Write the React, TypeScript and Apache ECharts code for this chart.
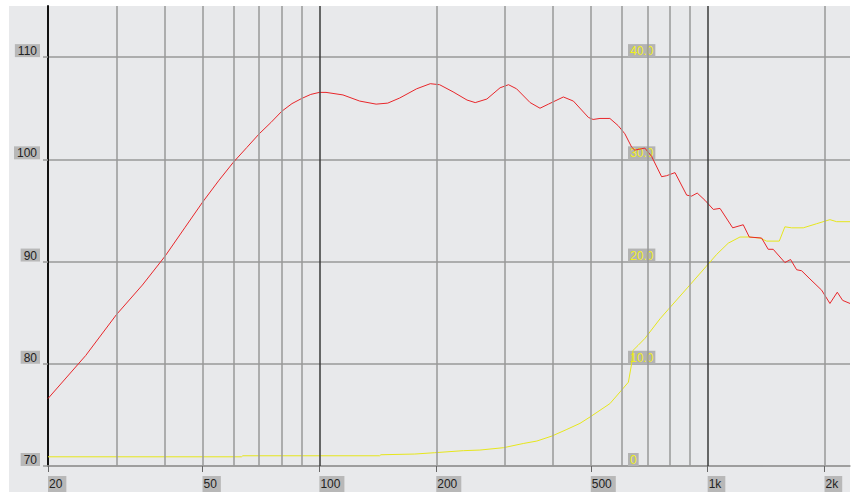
import React, { useEffect, useRef } from 'react';
import * as echarts from 'echarts';

// Frequency response (dB SPL, left axis)
const splFreq = [20, 25, 30, 35, 40, 45, 50, 55, 60, 65, 70, 75, 80, 85, 90, 95, 100, 104, 115, 127, 140, 150, 161, 178, 193, 204, 221, 240, 252, 270, 292, 307, 322, 349, 370, 389, 425, 451, 493, 507, 528, 560, 588, 612, 637, 649, 689, 717, 761, 784, 824, 883, 909, 940, 984, 1034, 1076, 1160, 1235, 1280, 1377, 1432, 1475, 1581, 1635, 1695, 1746, 1834, 1966, 2065, 2157, 2227, 2326];
const splValues = [76.6, 80.8, 84.8, 87.7, 90.5, 93.3, 95.8, 97.9, 99.7, 101.15, 102.5, 103.6, 104.7, 105.45, 105.95, 106.35, 106.55, 106.55, 106.3, 105.7, 105.4, 105.5, 106.0, 106.9, 107.4, 107.3, 106.6, 105.8, 105.55, 105.9, 107.0, 107.3, 106.9, 105.55, 105.0, 105.4, 106.1, 105.7, 104.1, 103.9, 104.0, 104.0, 103.3, 102.5, 101.2, 100.9, 101.1, 100.3, 98.3, 98.4, 98.7, 96.5, 96.4, 96.7, 96.0, 95.1, 95.2, 93.3, 93.6, 92.4, 92.3, 91.2, 91.2, 89.9, 90.2, 89.2, 89.1, 88.3, 87.2, 85.9, 87.0, 86.2, 85.9];

// Yellow curve (right-hand scale 0..40)
const yelFreq = [20, 63, 63.5, 143, 144, 176, 198, 235, 259, 298, 335, 363, 397, 434, 469, 498, 560, 595, 625, 637, 642, 662, 690, 754, 791, 890, 990, 1055, 1130, 1211, 1272, 1363, 1419, 1529, 1581, 1645, 1763, 1908, 2065, 2149, 2326];
const yelValues = [0.9, 0.9, 1.0, 1.0, 1.1, 1.17, 1.3, 1.5, 1.56, 1.79, 2.2, 2.44, 2.93, 3.58, 4.17, 4.8, 6.1, 7.25, 8.2, 10.0, 11.3, 11.8, 12.5, 14.4, 15.3, 17.5, 19.5, 20.7, 21.8, 22.4, 22.4, 22.3, 22.0, 22.0, 23.4, 23.3, 23.3, 23.7, 24.1, 23.9, 23.9];

const gridFreqs = [30, 40, 50, 60, 70, 80, 90, 200, 300, 400, 500, 600, 700, 800, 900, 2000];
const decadeFreqs = [100, 1000];
const xLabelFreqs = [20, 50, 100, 200, 500, 1000, 2000];
const leftTicks = [70, 80, 90, 100, 110];
const rightTicks = [0, 10, 20, 30, 40];

export default function App() {
  const ref = useRef<HTMLDivElement>(null);
  useEffect(() => {
    document.body.style.margin = '0';
    const chart = echarts.init(ref.current!, null, { renderer: 'svg' });
    const font = '"Liberation Sans", Arial, sans-serif';
    const gray = '#999999';
    const dark = '#3a3a3a';
    const vLines = [
      ...gridFreqs.map((f) => ({ xAxis: f, lineStyle: { color: gray, width: 1.5, type: 'solid' } })),
      ...decadeFreqs.map((f) => ({ xAxis: f, lineStyle: { color: dark, width: 1.5, type: 'solid' } })),
    ];
    chart.setOption({
      animation: false,
      backgroundColor: '#ffffff',
      graphic: [
        {
          type: 'rect',
          shape: { x: 9, y: 6, width: 841, height: 486 },
          style: { fill: '#e8e9eb' },
          z: -100,
          silent: true,
        },
      ],
      grid: { left: 48, right: 7, top: 6, bottom: 26, containLabel: false, outerBoundsMode: 'none' },
      xAxis: [
        {
          type: 'log',
          logBase: 10,
          min: 20,
          max: 2326,
          position: 'bottom',
          axisLine: { show: true, lineStyle: { color: gray, width: 1.5 } },
          axisTick: { show: true, customValues: xLabelFreqs, length: 6, lineStyle: { color: '#666', width: 1 } },
          axisLabel: {
            customValues: xLabelFreqs,
            formatter: (v: number) => (v >= 1000 ? Math.round(v / 1000) + 'k' : String(Math.round(v))),
            align: 'left',
            verticalAlign: 'top',
            margin: 10,
            color: '#222',
            fontFamily: font,
            fontSize: 12,
            backgroundColor: '#b8b8b8',
            padding: [2, 4, 3, 1],
          },
          splitLine: { show: false },
        },
      ],
      yAxis: [
        {
          type: 'value',
          min: 70,
          max: 115,
          interval: 10,
          position: 'left',
          axisLine: { show: true, lineStyle: { color: '#111', width: 2 } },
          axisTick: { show: true, customValues: leftTicks, length: 5, lineStyle: { color: gray, width: 1.5 } },
          axisLabel: {
            customValues: leftTicks,
            verticalAlign: 'bottom',
            margin: 8,
            color: '#222',
            fontFamily: font,
            fontSize: 12,
            backgroundColor: '#b8b8b8',
            padding: [1, 3, 0, 3],
          },
          splitLine: { show: true, lineStyle: { color: gray, width: 1.5 } },
        },
        {
          type: 'value',
          min: 0,
          max: 45,
          interval: 10,
          position: 'right',
          offset: -223,
          axisLine: { show: false },
          axisTick: { show: false, customValues: rightTicks },
          axisLabel: {
            customValues: rightTicks,
            formatter: (v: number) => (v === 0 ? '0' : v.toFixed(1)),
            align: 'left',
            verticalAlign: 'bottom',
            margin: 1,
            color: '#f0f020',
            fontFamily: font,
            fontSize: 12,
            backgroundColor: '#b3b3b3',
            padding: [1, 2, 0, 2],
          },
          splitLine: { show: false },
        },
      ],
      series: [
        {
          name: 'grid',
          type: 'line',
          xAxisIndex: 0,
          yAxisIndex: 0,
          z: 1,
          silent: true,
          data: [],
          markLine: {
            silent: true,
            symbol: ['none', 'none'],
            label: { show: false },
            data: vLines,
          },
        },
        {
          name: 'SPL',
          type: 'line',
          xAxisIndex: 0,
          yAxisIndex: 0,
          showSymbol: false,
          z: 4,
          lineStyle: { color: '#e8262a', width: 1 },
          itemStyle: { color: '#e8262a' },
          data: splFreq.map((f, i) => [f, splValues[i]]),
        },
        {
          name: 'Yellow',
          type: 'line',
          xAxisIndex: 0,
          yAxisIndex: 1,
          showSymbol: false,
          z: 3,
          lineStyle: { color: '#e6e61c', width: 1 },
          itemStyle: { color: '#e6e61c' },
          data: yelFreq.map((f, i) => [f, yelValues[i]]),
        },
      ],
    });
    return () => chart.dispose();
  }, []);
  return <div ref={ref} style={{ width: 857, height: 492 }} />;
}
